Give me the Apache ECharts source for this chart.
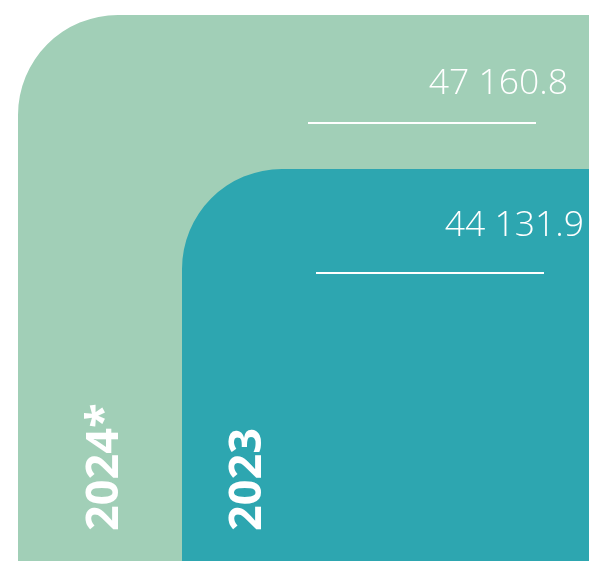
<!DOCTYPE html>
<html lang="en">
  <head>
    <meta charset="utf-8">
    <title>2024* vs 2023</title>
    <script src="https://cdn.jsdelivr.net/npm/echarts@6/dist/echarts.min.js"></script>
<style type="text/css">
html, body { margin: 0; padding: 0; background: #ffffff; }
#chart { width: 589px; height: 561px; }
</style>
  </head>
<body>
<div id='chart'></div>
<script type='text/javascript'>
// data
var years = ['2024*', '2023'];
var values = [47160.8, 44131.9];
var valueLabels = ['47 160.8', '44 131.9'];

// style per block (drawing only, not data)
var colors = ['#a1cfb7', '#2da6b0'];
var labelRightInset = [21, 5];   // value text right edge, from canvas right
var labelDrop = [69, 57];        // value text centre, below block top
var lineRightInset = [53, 45];   // underline right end, from canvas right
var lineDrop = [108, 104];       // underline, below block top
var yearOffset = [87, 66];       // year text centre, from block left

var dom = document.getElementById('chart');
var myChart = echarts.init(dom, null, { renderer: 'canvas' });

function renderBlock(params, api) {
    var i = params.dataIndex;
    var pt = api.coord([api.value(0), api.value(1)]);
    var W = api.getWidth();
    var H = api.getHeight();
    var x = pt[0], y = pt[1];
    return {
        type: 'group',
        children: [
            {
                type: 'rect',
                shape: { x: x, y: y, width: W - x + 2, height: H - y + 2, r: [100, 0, 0, 0] },
                style: { fill: colors[i] }
            },
            {
                type: 'text',
                x: W - labelRightInset[i],
                y: y + labelDrop[i],
                style: {
                    text: valueLabels[i],
                    fill: '#ffffff',
                    font: '300 35.5px "Open Sans"',
                    align: 'right',
                    verticalAlign: 'middle'
                }
            },
            {
                type: 'line',
                shape: { x1: W - lineRightInset[i] - 228, y1: y + lineDrop[i], x2: W - lineRightInset[i], y2: y + lineDrop[i] },
                style: { stroke: '#ffffff', lineWidth: 2 }
            },
            {
                type: 'text',
                x: x + yearOffset[i],
                y: 531,
                rotation: Math.PI / 2,
                style: {
                    text: years[i],
                    fill: '#ffffff',
                    font: 'bold 45px "Open Sans"',
                    align: 'left',
                    verticalAlign: 'middle'
                }
            }
        ]
    };
}

var option = {
    animation: false,
    grid: { left: 18, width: 164, top: 0, bottom: 0 },
    xAxis: {
        type: 'category',
        data: years,
        boundaryGap: false,
        show: false
    },
    yAxis: {
        type: 'value',
        min: 36420,
        max: 47456,
        show: false
    },
    series: [
        {
            type: 'custom',
            renderItem: renderBlock,
            clip: false,
            data: years.map(function (y, i) { return [y, values[i]]; })
        }
    ]
};
myChart.setOption(option);
</script>
</body>
</html>
